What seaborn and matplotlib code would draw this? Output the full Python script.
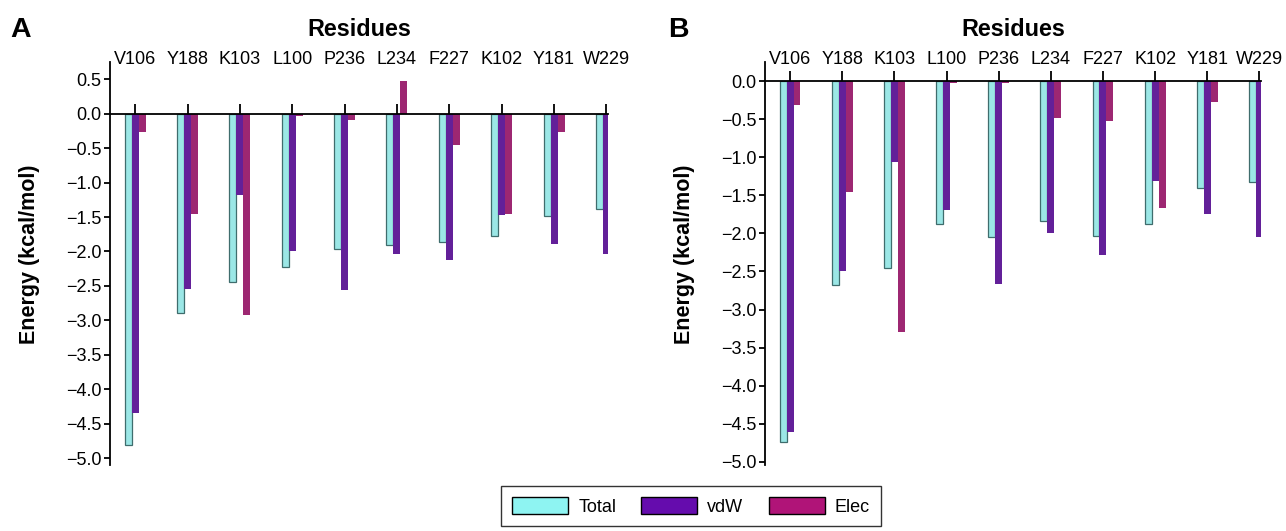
import numpy as np
import pandas as pd
import matplotlib
matplotlib.use("Agg")
import matplotlib.pyplot as plt
from matplotlib.patches import Patch
from matplotlib.ticker import FuncFormatter
import seaborn as sns

residues = ["V106", "Y188", "K103", "L100", "P236", "L234", "F227", "K102", "Y181", "W229"]
components = ["Total", "vdW", "Elec"]

# panel A
a_total = [-4.81, -2.90, -2.44, -2.23, -1.97, -1.90, -1.86, -1.78, -1.48, -1.38]
a_vdw = [-4.34, -2.55, -1.18, -1.99, -2.56, -2.04, -2.13, -1.47, -1.89, -2.04]
a_elec = [-0.27, -1.45, -2.92, -0.04, -0.09, 0.48, -0.45, -1.45, -0.27, 0.0]

# panel B
b_total = [-4.74, -2.68, -2.45, -1.87, -2.05, -1.84, -2.04, -1.87, -1.40, -1.33]
b_vdw = [-4.61, -2.49, -1.06, -1.69, -2.66, -1.99, -2.28, -1.31, -1.75, -2.05]
b_elec = [-0.31, -1.46, -3.29, -0.02, -0.03, -0.48, -0.53, -1.66, -0.27, 0.0]

colors = {"Total": "#8ef4f2", "vdW": "#650cad", "Elec": "#b01478"}

sns.set_theme(style="white")
plt.rcParams['font.family'] = ['Liberation Sans', 'DejaVu Sans']
plt.rcParams['text.color'] = 'black'
plt.rcParams['axes.labelcolor'] = 'black'
plt.rcParams['xtick.color'] = 'black'
plt.rcParams['ytick.color'] = 'black'

W, H = 1286, 531


def make_df(total, vdw, elec):
    rows = []
    for comp, vals in zip(components, [total, vdw, elec]):
        for r, v in zip(residues, vals):
            rows.append({"residue": r, "component": comp, "energy": v})
    return pd.DataFrame(rows)


def fmt(v, pos):
    s = f"{v:.1f}"
    if s == "-0.0":
        s = "0.0"
    return s.replace("-", "\u2212")


def draw_panel(ax, df, ylim, yticks):
    sns.barplot(data=df, x="residue", y="energy", hue="component", order=residues,
                hue_order=components, palette=colors, width=0.4, gap=0,
                edgecolor="none", linewidth=0, legend=False, ax=ax)
    for bar in ax.containers[0]:
        bar.set_edgecolor("#3f6d6d")
        bar.set_linewidth(0.9)
    ax.set_ylim(*ylim)
    ax.set_xlim(-0.48, 9.03)
    ax.set_yticks(yticks)
    ax.yaxis.set_major_formatter(FuncFormatter(fmt))
    ax.spines["top"].set_visible(False)
    ax.spines["right"].set_visible(False)
    ax.spines["bottom"].set_position(("data", 0))
    for s in ["left", "bottom"]:
        ax.spines[s].set_color("black")
        ax.spines[s].set_linewidth(1.3)
    ax.tick_params(axis="x", direction="in", bottom=True, top=False, labelbottom=False,
                   labeltop=True, length=7, width=1.3, labelsize=13, pad=-4)
    ax.tick_params(axis="y", direction="out", left=True, length=4, width=1.3,
                   labelsize=13, pad=2)
    ax.set_xlabel("")
    ax.text(0.5, 1 + 26 / 403, "Residues", transform=ax.transAxes, fontsize=16.8,
            fontweight="bold", ha="center", va="baseline")
    ax.set_ylabel("Energy (kcal/mol)", fontsize=15.5, fontweight="bold")
    ax.yaxis.set_label_coords(-0.141, 0.524)


fig = plt.figure(figsize=(W / 100, H / 100), dpi=100)
ax_a = fig.add_axes([110 / W, 1 - 465 / H, 498 / W, 403 / H])
ax_b = fig.add_axes([765 / W, 1 - 465 / H, 496 / W, 403 / H])

draw_panel(ax_a, make_df(a_total, a_vdw, a_elec), (-5.1, 0.75), np.arange(-5.0, 0.51, 0.5))
draw_panel(ax_b, make_df(b_total, b_vdw, b_elec), (-5.04, 0.25), np.arange(-5.0, 0.01, 0.5))

fig.text(10 / W, 1 - 37 / H, "A", fontsize=20.5, fontweight="bold", va="baseline", ha="left")
fig.text(668 / W, 1 - 37 / H, "B", fontsize=20.5, fontweight="bold", va="baseline", ha="left")

handles = [Patch(facecolor=colors[c], edgecolor="black", linewidth=1.0, label=c) for c in components]
leg = fig.legend(handles=handles, loc="upper center", bbox_to_anchor=(691 / W, 1 - 486 / H),
                 ncol=3, frameon=True, fancybox=False, fontsize=13, handlelength=3.1,
                 handleheight=1.1, handletextpad=0.55, columnspacing=1.4, borderpad=0.6,
                 borderaxespad=0)
leg.get_frame().set_edgecolor("black")
leg.get_frame().set_linewidth(1.0)

fig.savefig("out.png", dpi=100)
